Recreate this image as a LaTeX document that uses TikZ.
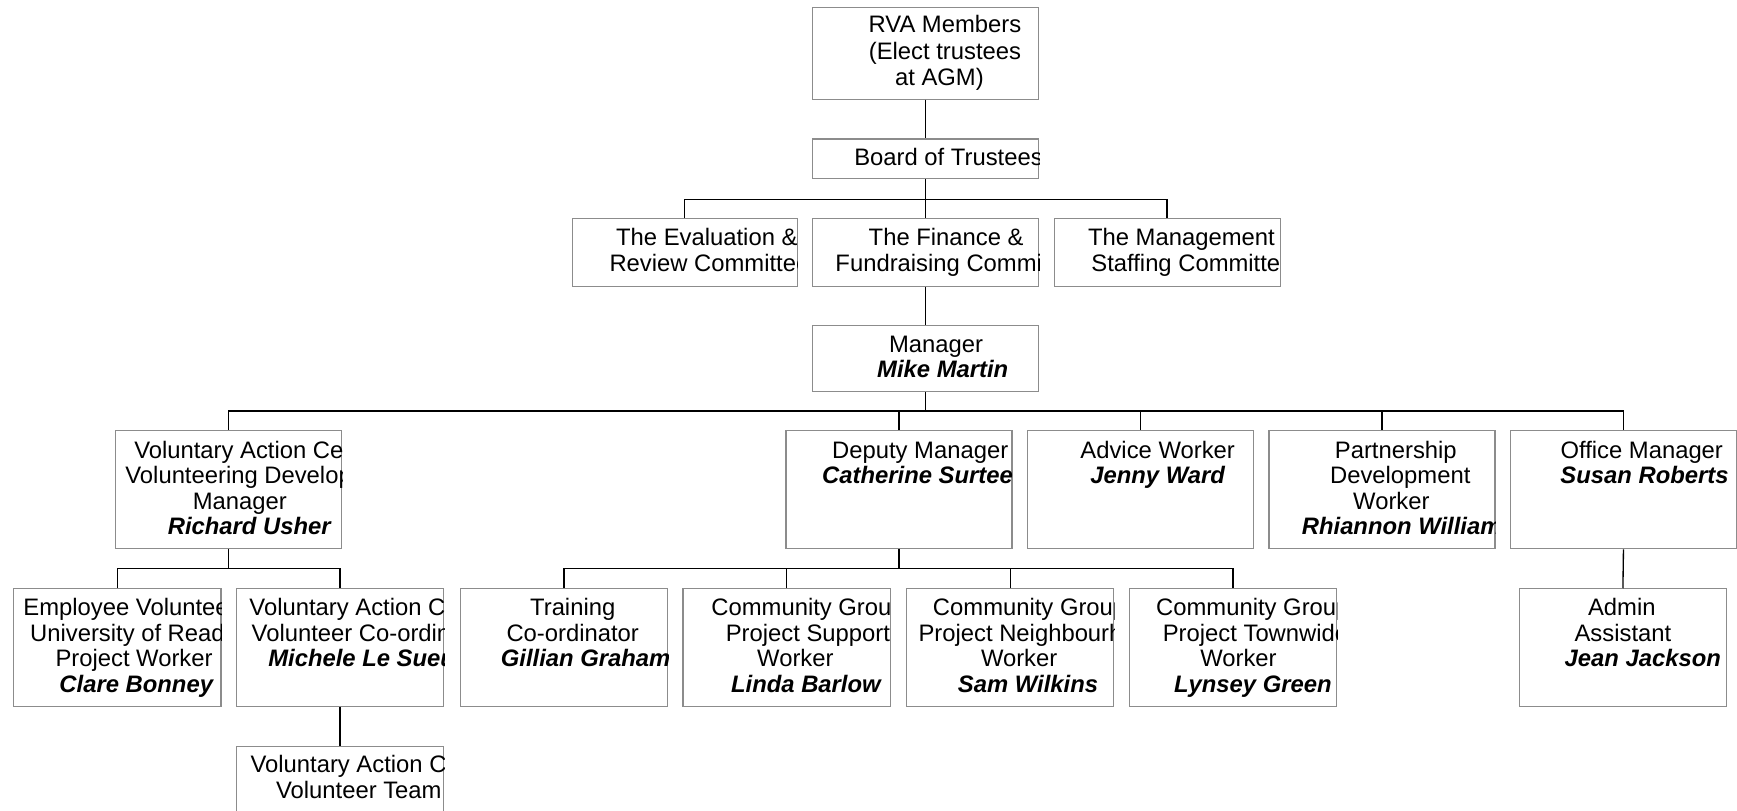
\documentclass[tikz,border=0pt]{standalone}
\usepackage{fontspec}
\setmainfont{Liberation Sans}
\definecolor{boxgray}{RGB}{140,140,140}
\begin{document}
\begin{tikzpicture}[x=1pt,y=-1pt,
  every node/.style={font=\fontsize{21.5pt}{23pt}\selectfont},
  box/.style={draw=boxgray, line width=1pt, inner sep=0, anchor=north west},
  ln/.style={inner sep=0, text height=15.5pt, text depth=0pt},
  lw/.style={ln, anchor=west},
  nm/.style={font=\fontsize{21.5pt}{23pt}\selectfont\bfseries\itshape},
  conn/.style={draw=black, line width=1.2pt}]
\useasboundingbox (0,0) rectangle (1568,732);
\clip (0,0) rectangle (1568,732);
% ---- boxes
\node[box, minimum width=204pt, minimum height=83pt] (rva) at (733,6) {};
\node[box, minimum width=204pt, minimum height=36pt] (board) at (733,125) {};
\node[box, minimum width=203pt, minimum height=61pt] (eval) at (516,197) {};
\node[box, minimum width=204pt, minimum height=61pt] (fin) at (733,197) {};
\node[box, minimum width=204pt, minimum height=61pt] (mgmt) at (951,197) {};
\node[box, minimum width=204pt, minimum height=60pt] (mgr) at (733,293) {};
\node[box, minimum width=204pt, minimum height=107pt] (vac) at (104,388) {};
\node[box, minimum width=204pt, minimum height=107pt] (dep) at (709,388) {};
\node[box, minimum width=204pt, minimum height=107pt] (adv) at (927,388) {};
\node[box, minimum width=204pt, minimum height=107pt] (part) at (1145,388) {};
\node[box, minimum width=204pt, minimum height=107pt] (off) at (1363,388) {};
\node[box, minimum width=187pt, minimum height=106pt] (emp) at (12,531) {};
\node[box, minimum width=187pt, minimum height=106pt] (vcc) at (213,531) {};
\node[box, minimum width=187pt, minimum height=106pt] (trn) at (415,531) {};
\node[box, minimum width=187pt, minimum height=106pt] (cgs) at (616,531) {};
\node[box, minimum width=187pt, minimum height=106pt] (cgn) at (818,531) {};
\node[box, minimum width=187pt, minimum height=106pt] (cgt) at (1019,531) {};
\node[box, minimum width=187pt, minimum height=106pt] (adm) at (1371,531) {};
\node[box, minimum width=187pt, minimum height=106pt] (vt) at (213,673) {};
% ---- connectors
\draw[conn] (rva.south) -- (board.north);
\draw[conn] (board.south) -- (fin.north);
\draw[conn] (eval.north) -- ++(0,-17) -| (mgmt.north);
\draw[conn] (fin.south) -- (mgr.north);
\draw[conn] (mgr.south) -- ++(0,18) coordinate (mbar);
\draw[conn] (vac.north) -- ++(0,-17) -| (off.north);
\draw[conn] (dep.north) -- (dep.north |- mbar);
\draw[conn] (adv.north) -- (adv.north |- mbar);
\draw[conn] (part.north) -- (part.north |- mbar);
\draw[conn] (vac.south) -- ++(0,18) coordinate (vbar);
\draw[conn] (emp.north) -- ++(0,-18) -| (vcc.north);
\draw[conn] (dep.south) -- ++(0,18) coordinate (dbar);
\draw[conn] (trn.north) -- ++(0,-18) -| (cgt.north);
\draw[conn] (cgs.north) -- (cgs.north |- dbar);
\draw[conn] (cgn.north) -- (cgn.north |- dbar);
\draw[conn] (off.south) -- (adm.north);
\draw[conn] (vcc.south) -- (vt.north);
% ---- texts (clipped to boxes)
\begin{scope}\clip (rva.south west) rectangle (rva.north east);
\node[ln] at (853,22) {RVA Members};
\node[ln] at (853,46) {(Elect trustees};
\node[ln] at (848,69) {at AGM)};
\end{scope}
\begin{scope}\clip (board.south west) rectangle (board.north east);
\node[lw] at (771,142) {Board of Trustees};
\end{scope}
\begin{scope}\clip (eval.south west) rectangle (eval.north east);
\node[lw] at (556,214) {The Evaluation \&};
\node[lw] at (550,237) {Review Committee};
\end{scope}
\begin{scope}\clip (fin.south west) rectangle (fin.north east);
\node[lw] at (784,214) {The Finance \&};
\node[lw] at (754,237) {Fundraising Committee};
\end{scope}
\begin{scope}\clip (mgmt.south west) rectangle (mgmt.north east);
\node[lw] at (982,214) {The Management};
\node[lw] at (985,237) {Staffing Committee};
\end{scope}
\begin{scope}\clip (mgr.south west) rectangle (mgr.north east);
\node[ln] at (845,310) {Manager};
\node[ln,nm] at (851,333) {Mike Martin};
\end{scope}
\begin{scope}\clip (vac.south west) rectangle (vac.north east);
\node[lw] at (121,406) {Voluntary Action Centre};
\node[lw] at (113,429) {Volunteering Development};
\node[ln] at (216.5,452) {Manager};
\node[ln,nm] at (225,475) {Richard Usher};
\end{scope}
\begin{scope}\clip (dep.south west) rectangle (dep.north east);
\node[lw] at (751,406) {Deputy Manager};
\node[lw,nm] at (742,429) {Catherine Surtees};
\end{scope}
\begin{scope}\clip (adv.south west) rectangle (adv.north east);
\node[ln] at (1045,406) {Advice Worker};
\node[ln,nm] at (1045,429) {Jenny Ward};
\end{scope}
\begin{scope}\clip (part.south west) rectangle (part.north east);
\node[ln] at (1260,406) {Partnership};
\node[ln] at (1264,429) {Development};
\node[ln] at (1256,452) {Worker};
\node[lw,nm] at (1175,475) {Rhiannon Williams};
\end{scope}
\begin{scope}\clip (off.south west) rectangle (off.north east);
\node[ln] at (1482,406) {Office Manager};
\node[ln,nm] at (1484.5,429) {Susan Roberts};
\end{scope}
\begin{scope}\clip (emp.south west) rectangle (emp.north east);
\node[lw] at (21,548) {Employee Volunteering};
\node[lw] at (27,571) {University of Reading};
\node[ln] at (121,594) {Project Worker};
\node[ln,nm] at (123,617) {Clare Bonney};
\end{scope}
\begin{scope}\clip (vcc.south west) rectangle (vcc.north east);
\node[lw] at (225,548) {Voluntary Action Centre};
\node[lw] at (227,571) {Volunteer Co-ordinator};
\node[lw,nm] at (242,594) {Michele Le Sueur};
\end{scope}
\begin{scope}\clip (trn.south west) rectangle (trn.north east);
\node[ln] at (517,548) {Training};
\node[ln] at (517,571) {Co-ordinator};
\node[lw,nm] at (452,594) {Gillian Graham};
\end{scope}
\begin{scope}\clip (cgs.south west) rectangle (cgs.north east);
\node[lw] at (642,548) {Community Group};
\node[lw] at (655,571) {Project Support};
\node[ln] at (718,594) {Worker};
\node[ln,nm] at (727.5,617) {Linda Barlow};
\end{scope}
\begin{scope}\clip (cgn.south west) rectangle (cgn.north east);
\node[lw] at (842,548) {Community Group};
\node[lw] at (829,571) {Project Neighbourhood};
\node[ln] at (920,594) {Worker};
\node[ln,nm] at (928,617) {Sam Wilkins};
\end{scope}
\begin{scope}\clip (cgt.south west) rectangle (cgt.north east);
\node[lw] at (1043.5,548) {Community Group};
\node[lw] at (1049.5,571) {Project Townwide};
\node[ln] at (1118,594) {Worker};
\node[ln,nm] at (1131,617) {Lynsey Green};
\end{scope}
\begin{scope}\clip (adm.south west) rectangle (adm.north east);
\node[ln] at (1464,548) {Admin};
\node[ln] at (1465,571) {Assistant};
\node[ln,nm] at (1483,594) {Jean Jackson};
\end{scope}
\begin{scope}\clip (vt.south west) rectangle (vt.north east);
\node[lw] at (226,690) {Voluntary Action Centre};
\node[lw] at (249,713) {Volunteer Team};
\end{scope}
\end{tikzpicture}
\end{document}
